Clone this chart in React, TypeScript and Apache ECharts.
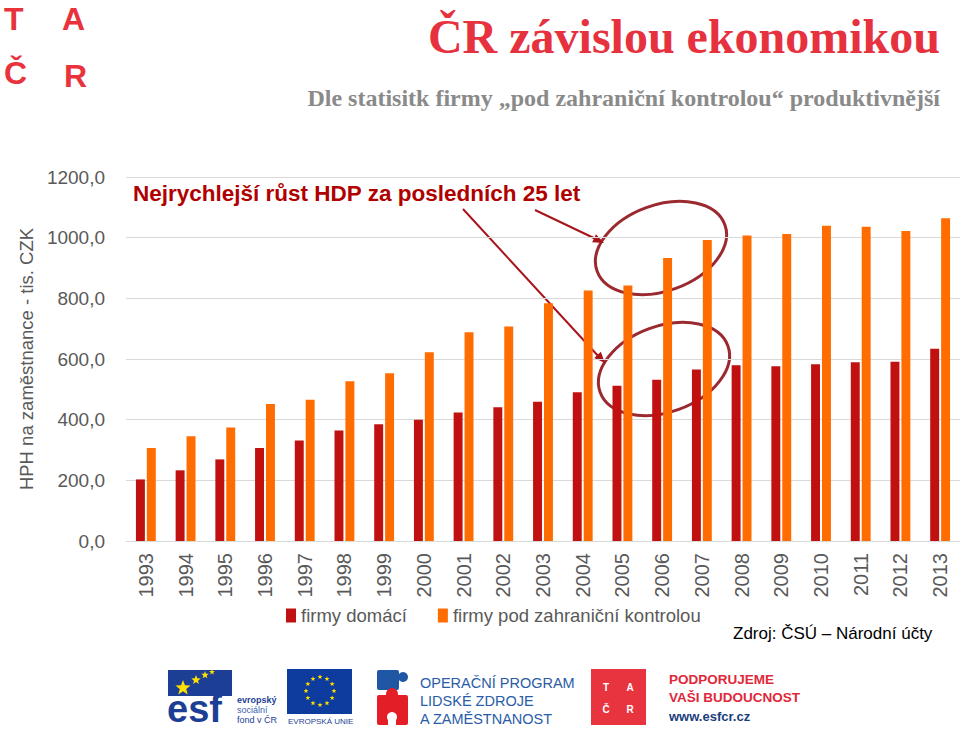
import React, { useEffect, useRef } from "react";
import * as echarts from "echarts";

const years = ["1993","1994","1995","1996","1997","1998","1999","2000","2001","2002","2003","2004","2005","2006","2007","2008","2009","2010","2011","2012","2013"];
const domestic = [203,233,269,307,331,364,385,400,424,441,459,490,512,532,565,579,576,583,589,591,634];
const foreign = [307,345,374,452,466,527,553,622,688,707,784,826,842,933,992,1007,1012,1039,1036,1022,1064];
const seriesNames = ["firmy domácí", "firmy pod zahraniční kontrolou"];
const yTicks = { min: 0, max: 1200, interval: 200 };

const NARROW = "'Liberation Sans Narrow', 'Arial Narrow', 'Liberation Sans', Arial, sans-serif";
const SANS = "'Liberation Sans', Arial, sans-serif";
const SERIF = "'Liberation Serif', 'Times New Roman', serif";

function arrowHead(x1: number, y1: number, x2: number, y2: number, len: number, w: number, fill: string) {
  const a = Math.atan2(y2 - y1, x2 - x1);
  const bx = x2 - len * Math.cos(a), by = y2 - len * Math.sin(a);
  const px = -Math.sin(a) * w, py = Math.cos(a) * w;
  return { type: "polygon", shape: { points: [[x2, y2], [bx + px, by + py], [bx - px, by - py]] }, style: { fill } };
}

function star(cx: number, cy: number, r: number, fill: string) {
  const pts: number[][] = [];
  for (let i = 0; i < 10; i++) {
    const rr = i % 2 === 0 ? r : r * 0.42;
    const t = -Math.PI / 2 + (i * Math.PI) / 5;
    pts.push([cx + rr * Math.cos(t), cy + rr * Math.sin(t)]);
  }
  return { type: "polygon", shape: { points: pts }, style: { fill } };
}

export default function App() {
  const ref = useRef<HTMLDivElement>(null);
  useEffect(() => {
    document.body.style.margin = "0";
    const chart = echarts.init(ref.current!, null, { renderer: "svg" });
    const red = "#c0100f";
    const orange = "#ff6c00";
    const annot = "#a8141a";
    const ell = "#9b2a30";
    const euStars = Array.from({ length: 12 }, (_, i) => {
      const t = (i / 12) * Math.PI * 2;
      return star(320 + 14 * Math.cos(t), 691 + 14 * Math.sin(t), 2.6, "#ffdd00");
    });
    chart.setOption({
      animation: false,
      backgroundColor: "#ffffff",
      grid: { left: 126, right: 0, top: 177, bottom: 190 },
      xAxis: {
        type: "category",
        data: years,
        axisLine: { lineStyle: { color: "#d9d9d9", width: 1 } },
        axisTick: { show: false },
        axisLabel: { rotate: 90, color: "#595959", fontSize: 20, fontFamily: NARROW, margin: 12 },
      },
      yAxis: {
        type: "value",
        min: yTicks.min,
        max: yTicks.max,
        interval: yTicks.interval,
        name: "HPH na zaměstnance - tis. CZK",
        nameLocation: "middle",
        nameRotate: 90,
        nameGap: 78,
        nameTextStyle: { color: "#595959", fontSize: 18.5, fontFamily: NARROW },
        axisLine: { show: false },
        axisTick: { show: false },
        splitLine: { lineStyle: { color: "#d9d9d9", width: 1 } },
        axisLabel: {
          color: "#595959", fontSize: 19, fontFamily: NARROW, margin: 21,
          formatter: (v: number) => v.toFixed(1).replace(".", ","),
        },
      },
      legend: {
        left: 281, top: 601,
        itemWidth: 10, itemHeight: 14, itemGap: 31,
        icon: "rect",
        textStyle: { color: "#595959", fontSize: 18.5, fontFamily: NARROW },
        data: seriesNames,
      },
      series: [
        { name: seriesNames[0], type: "bar", data: domestic, itemStyle: { color: red }, barGap: "22%", barCategoryGap: "50%" },
        { name: seriesNames[1], type: "bar", data: foreign, itemStyle: { color: orange }, barGap: "22%", barCategoryGap: "50%" },
      ],
      graphic: [
        // TAČR corner logo
        { type: "text", style: { text: "T", x: 4, y: 19, fill: "#e8323c", font: "bold 32px " + SANS, verticalAlign: "middle" } },
        { type: "text", style: { text: "A", x: 62, y: 19, fill: "#e8323c", font: "bold 32px " + SANS, verticalAlign: "middle" } },
        { type: "text", style: { text: "Č", x: 4, y: 73, fill: "#e8323c", font: "bold 32px " + SANS, verticalAlign: "middle" } },
        { type: "text", style: { text: "R", x: 64, y: 76, fill: "#e8323c", font: "bold 32px " + SANS, verticalAlign: "middle" } },
        // titles
        { type: "text", style: { text: "ČR závislou ekonomikou", x: 940, y: 36, fill: "#e6323e", font: "bold 48px " + SERIF, align: "right", verticalAlign: "middle" } },
        { type: "text", style: { text: "Dle statisitk firmy „pod zahraniční kontrolou“ produktivnější", x: 940, y: 98, fill: "#8a8a8a", font: "bold 24px " + SERIF, align: "right", verticalAlign: "middle" } },
        // annotation
        { type: "text", style: { text: "Nejrychlejší růst HDP za posledních 25 let", x: 133, y: 193, fill: "#b00000", font: "bold 22.5px " + SANS, verticalAlign: "middle" } },
        { type: "ellipse", x: 661, y: 248, rotation: 0.35, shape: { cx: 0, cy: 0, rx: 68, ry: 43 }, style: { fill: "none", stroke: ell, lineWidth: 3 } },
        { type: "ellipse", x: 664, y: 369, rotation: 0.35, shape: { cx: 0, cy: 0, rx: 68, ry: 43 }, style: { fill: "none", stroke: ell, lineWidth: 3 } },
        { type: "line", shape: { x1: 535, y1: 210, x2: 598, y2: 240 }, style: { stroke: annot, lineWidth: 2 } },
        arrowHead(535, 210, 604, 243, 11, 4.5, annot),
        { type: "line", shape: { x1: 463, y1: 209, x2: 600, y2: 358 }, style: { stroke: annot, lineWidth: 2 } },
        arrowHead(463, 209, 605, 363, 11, 4.5, annot),
        // source
        { type: "text", style: { text: "Zdroj: ČSÚ – Národní účty", x: 733, y: 633, fill: "#000000", font: "17px " + NARROW, verticalAlign: "middle" } },
        // ESF logo
        { type: "rect", shape: { x: 168, y: 670, width: 64, height: 26 }, style: { fill: "#1c3f95" } },
        star(183, 688, 8, "#ffe100"),
        star(196, 680, 5, "#ffe100"),
        star(205, 675, 4, "#ffe100"),
        star(212, 672, 3, "#ffe100"),
        { type: "text", style: { text: "esf", x: 167, y: 728, fill: "#1c3f95", font: "bold 38px " + SANS, verticalAlign: "bottom" } },
        { type: "text", style: { text: "evropský", x: 237, y: 700, fill: "#1c3f95", font: "bold 9px " + SANS, verticalAlign: "middle" } },
        { type: "text", style: { text: "sociální", x: 237, y: 710, fill: "#3d64b0", font: "9px " + SANS, verticalAlign: "middle" } },
        { type: "text", style: { text: "fond v ČR", x: 237, y: 720, fill: "#1c3f95", font: "9px " + SANS, verticalAlign: "middle" } },
        // EU flag
        { type: "rect", shape: { x: 287, y: 669, width: 65, height: 45 }, style: { fill: "#0d3c9e" } },
        ...euStars,
        { type: "text", style: { text: "EVROPSKÁ UNIE", x: 288, y: 721, fill: "#1c3f95", font: "8px " + SANS, verticalAlign: "middle" } },
        // OP puzzle
        { type: "rect", shape: { x: 377, y: 670, width: 22, height: 20, r: 2 }, style: { fill: "#1f57a5" } },
        { type: "circle", shape: { cx: 403, cy: 677, r: 5 }, style: { fill: "#1f57a5" } },
        { type: "rect", shape: { x: 377, y: 695, width: 31, height: 30, r: 2 }, style: { fill: "#e41e26" } },
        { type: "circle", shape: { cx: 392, cy: 694, r: 6 }, style: { fill: "#e41e26" } },
        { type: "circle", shape: { cx: 392, cy: 717, r: 5 }, style: { fill: "#ffffff" } },
        { type: "rect", shape: { x: 388, y: 717, width: 8, height: 9 }, style: { fill: "#ffffff" } },
        { type: "text", style: { text: "OPERAČNÍ PROGRAM", x: 420, y: 683, fill: "#2a5ca8", font: "14.5px " + SANS, verticalAlign: "middle" } },
        { type: "text", style: { text: "LIDSKÉ ZDROJE", x: 420, y: 701, fill: "#2a5ca8", font: "14.5px " + SANS, verticalAlign: "middle" } },
        { type: "text", style: { text: "A ZAMĚSTNANOST", x: 420, y: 719, fill: "#2a5ca8", font: "14.5px " + SANS, verticalAlign: "middle" } },
        // TAČR box
        { type: "rect", shape: { x: 591, y: 669, width: 55, height: 56 }, style: { fill: "#e8343f" } },
        { type: "text", style: { text: "T", x: 606, y: 687, fill: "#ffffff", font: "bold 10px " + SANS, align: "center", verticalAlign: "middle" } },
        { type: "text", style: { text: "A", x: 630, y: 687, fill: "#ffffff", font: "bold 10px " + SANS, align: "center", verticalAlign: "middle" } },
        { type: "text", style: { text: "Č", x: 606, y: 709, fill: "#ffffff", font: "bold 10px " + SANS, align: "center", verticalAlign: "middle" } },
        { type: "text", style: { text: "R", x: 630, y: 709, fill: "#ffffff", font: "bold 10px " + SANS, align: "center", verticalAlign: "middle" } },
        { type: "text", style: { text: "PODPORUJEME", x: 669, y: 679, fill: "#e0283a", font: "bold 13.5px " + SANS, verticalAlign: "middle" } },
        { type: "text", style: { text: "VAŠI BUDOUCNOST", x: 669, y: 697, fill: "#e0283a", font: "bold 13.5px " + SANS, verticalAlign: "middle" } },
        { type: "text", style: { text: "www.esfcr.cz", x: 669, y: 716, fill: "#1b3d7e", font: "bold 13px " + SANS, verticalAlign: "middle" } },
      ],
    });
    return () => chart.dispose();
  }, []);
  return <div ref={ref} style={{ width: 960, height: 731 }} />;
}
